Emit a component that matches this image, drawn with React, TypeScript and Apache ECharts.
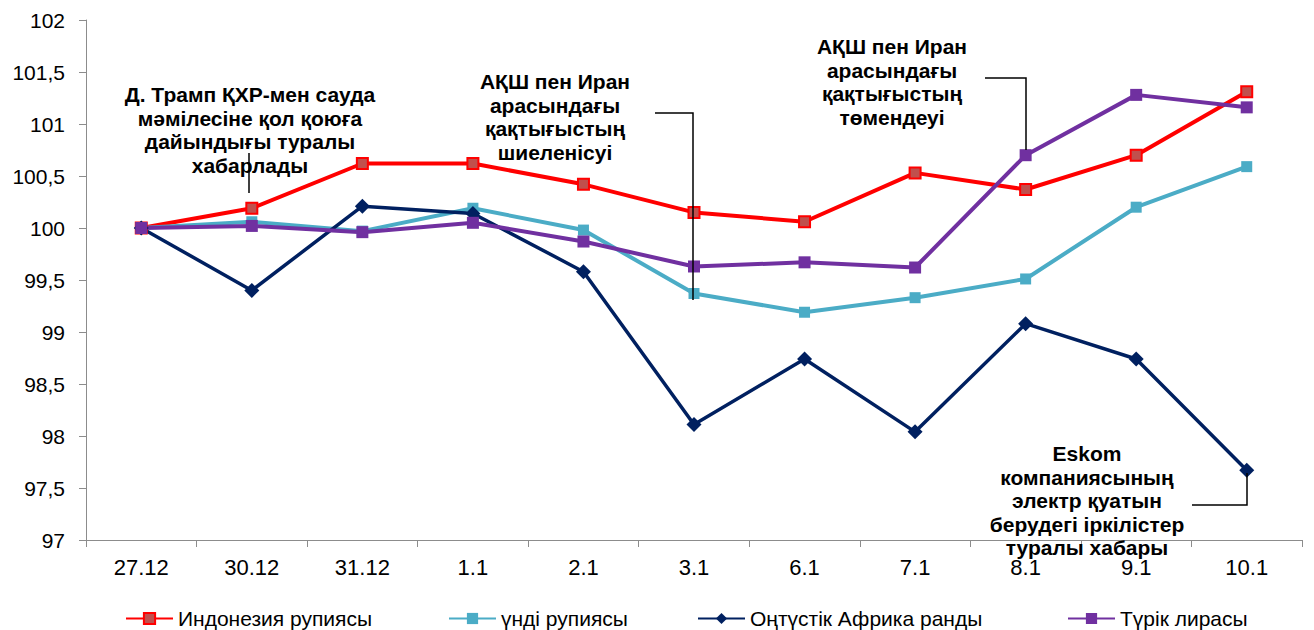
import React, { useEffect, useRef } from "react";
import * as echarts from "echarts";

const categories = ["27.12", "30.12", "31.12", "1.1", "2.1", "3.1", "6.1", "7.1", "8.1", "9.1", "10.1"];
const seriesNames = ["Индонезия рупиясы", "үнді рупиясы", "Оңтүстік Африка ранды", "Түрік лирасы"];
const indonesia = [100, 100.19, 100.62, 100.62, 100.42, 100.15, 100.06, 100.53, 100.37, 100.7, 101.31];
const india = [100, 100.06, 99.97, 100.19, 99.98, 99.37, 99.19, 99.33, 99.51, 100.2, 100.59];
const southAfrica = [100, 99.4, 100.21, 100.14, 99.58, 98.11, 98.74, 98.04, 99.08, 98.74, 97.67];
const turkey = [100, 100.02, 99.96, 100.05, 99.87, 99.63, 99.67, 99.62, 100.7, 101.28, 101.16];
const yMin = 97;
const yMax = 102;
const yStep = 0.5;

const notes = [
  "Д. Трамп ҚХР-мен сауда\nмәмілесіне қол қоюға\nдайындығы туралы\nхабарлады",
  "АҚШ пен Иран\nарасындағы\nқақтығыстың\nшиеленісуі",
  "АҚШ пен Иран\nарасындағы\nқақтығыстың\nтөмендеуі",
  "Eskom\nкомпаниясының\nэлектр қуатын\nберудегі іркілістер\nтуралы хабары",
];

const FONT = "'Liberation Sans', Arial, sans-serif";
const legendLefts = [120, 443, 692, 1062];

export default function App() {
  const ref = useRef<HTMLDivElement>(null);
  useEffect(() => {
    if (!ref.current) return;
    const chart = echarts.init(ref.current, undefined, { renderer: "svg" });
    const noteStyle = (text: string, x: number, y: number) => ({
      type: "text",
      x,
      y,
      z: 100,
      style: {
        text,
        x: 0,
        y: 0,
        align: "center",
        verticalAlign: "top",
        font: `bold 21px ${FONT}`,
        lineHeight: 23.5,
        fill: "#000",
      },
    });
    const connector = (points: number[][]) => ({
      type: "polyline",
      z: 100,
      shape: { points },
      style: { stroke: "#000", lineWidth: 1.5, fill: "none" },
    });
    chart.setOption({
      animation: false,
      grid: { left: 86, right: 12, top: 20, bottom: 90, containLabel: false },
      xAxis: {
        type: "category",
        data: categories,
        boundaryGap: true,
        axisLine: { lineStyle: { color: "#8c8c8c", width: 1 } },
        axisTick: { show: true, length: 7, lineStyle: { color: "#8c8c8c" } },
        axisLabel: { color: "#000", fontSize: 22, fontFamily: FONT, margin: 16 },
        splitLine: { show: false },
      },
      yAxis: {
        type: "value",
        min: yMin,
        max: yMax,
        interval: yStep,
        axisLine: { show: true, lineStyle: { color: "#8c8c8c", width: 1 } },
        axisTick: { show: true, length: 7, lineStyle: { color: "#8c8c8c" } },
        axisLabel: {
          color: "#000",
          fontSize: 21,
          fontFamily: FONT,
          margin: 21,
          formatter: (v: number) => String(v).replace(".", ","),
        },
        splitLine: { show: false },
      },
      legend: seriesNames.map((name, i) => ({
        top: 603,
        left: legendLefts[i],
        itemWidth: 47,
        itemHeight: 14,
        textStyle: { color: "#000", fontSize: 21, fontFamily: FONT },
        data: [name],
      })),
      series: [
        {
          name: seriesNames[0],
          type: "line",
          data: indonesia,
          symbol: "rect",
          symbolSize: 11,
          lineStyle: { color: "#FF0000", width: 4 },
          itemStyle: { color: "#C0504D", borderColor: "#FF0000", borderWidth: 2 },
        },
        {
          name: seriesNames[1],
          type: "line",
          data: india,
          symbol: "rect",
          symbolSize: 11,
          lineStyle: { color: "#4BACC6", width: 4 },
          itemStyle: { color: "#4BACC6" },
        },
        {
          name: seriesNames[2],
          type: "line",
          data: southAfrica,
          symbol: "diamond",
          symbolSize: 15,
          lineStyle: { color: "#002060", width: 3.5 },
          itemStyle: { color: "#002060" },
        },
        {
          name: seriesNames[3],
          type: "line",
          data: turkey,
          symbol: "rect",
          symbolSize: 12,
          lineStyle: { color: "#7030A0", width: 4 },
          itemStyle: { color: "#7030A0" },
        },
      ],
      graphic: [
        noteStyle(notes[0], 250, 83),
        noteStyle(notes[1], 555, 70),
        noteStyle(notes[2], 892, 35),
        noteStyle(notes[3], 1087, 442),
        connector([[249, 153], [249, 193]]),
        connector([[655, 113], [693, 113], [693, 300]]),
        connector([[985, 78], [1026, 78], [1026, 150]]),
        connector([[1192, 505], [1247, 505], [1247, 473]]),
      ],
    });
    return () => chart.dispose();
  }, []);
  return (
    <div
      ref={ref}
      style={{ position: "fixed", left: 0, top: 0, width: 1314, height: 630, background: "#fff" }}
    />
  );
}
